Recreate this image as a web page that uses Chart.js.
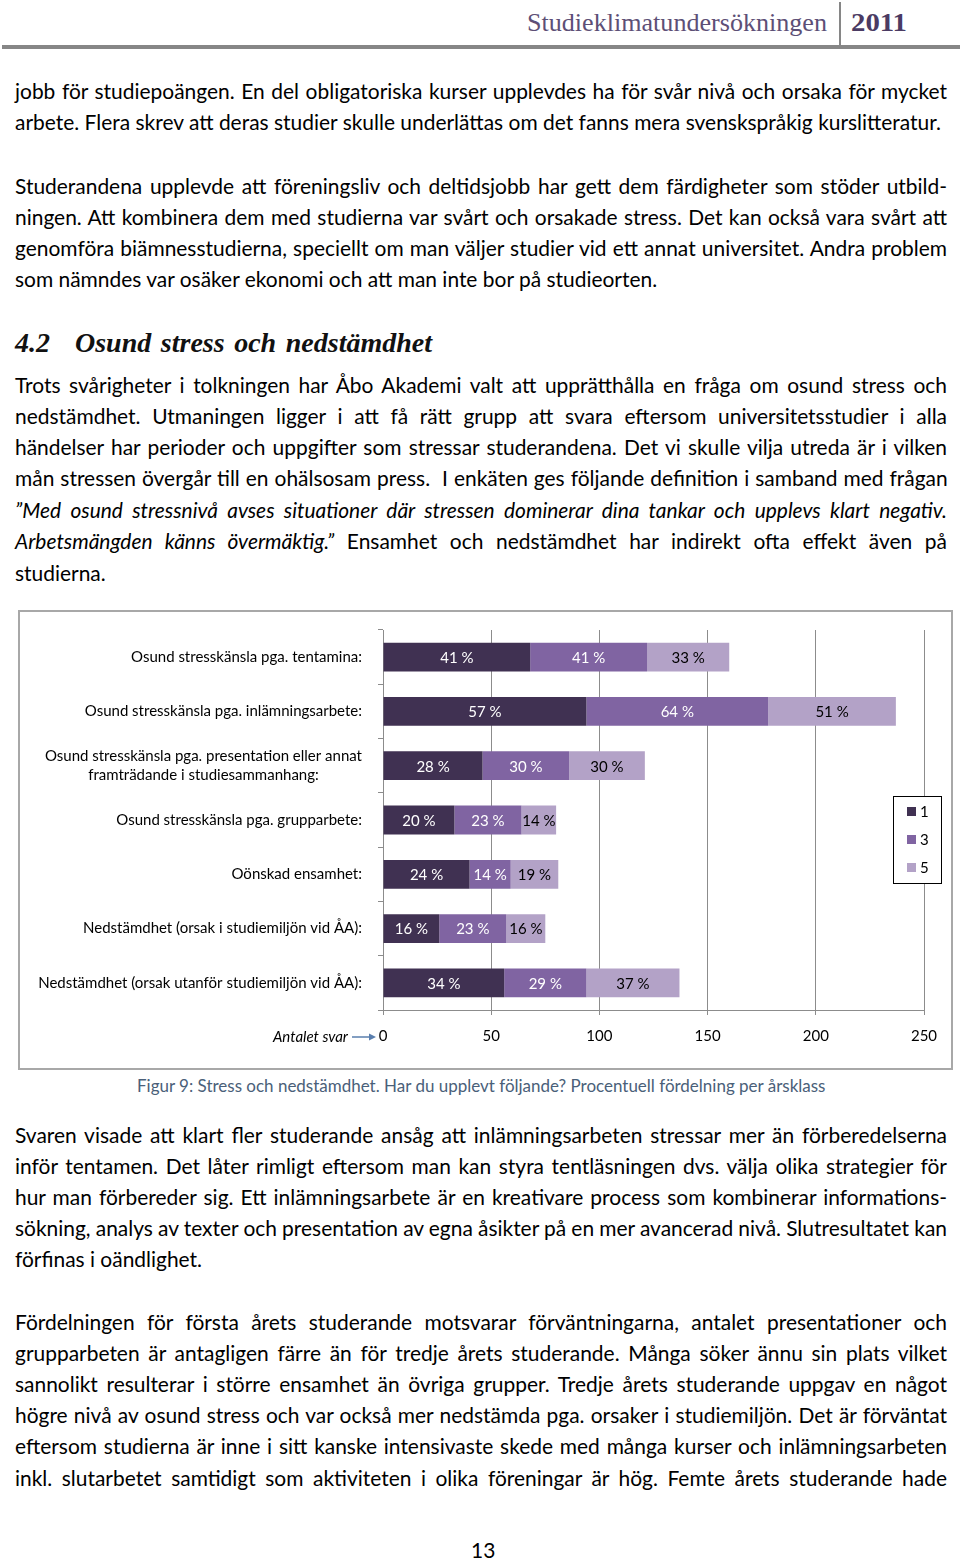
<!DOCTYPE html>
<html>
<head>
<meta charset="utf-8">
<script src="https://cdn.jsdelivr.net/npm/chart.js@4"></script>
<style>
body{margin:0;width:960px;height:1559px;background:#fff;position:relative;overflow:hidden;font-family:Lato,"Open Sans",sans-serif;color:#000}
.ln{position:absolute;left:15px;white-space:nowrap;font-size:19px;line-height:31px;height:31px;transform-origin:0 50%}
.it{font-style:italic}
.hdr{position:absolute;white-space:nowrap;font-family:"Liberation Serif",serif;line-height:30px;transform-origin:0 50%}
#rule{position:absolute;left:2px;top:45px;width:958px;height:4px;background:#868686}
#sep{position:absolute;left:839px;top:2px;width:2px;height:44px;background:#868686}
#box{position:absolute;left:18px;top:610px;width:931px;height:456px;border:2px solid #a8a8a8}
#chart{position:absolute;left:18px;top:610px}
.h2{position:absolute;white-space:nowrap;font-family:"Liberation Serif",serif;font-weight:bold;font-style:italic;font-size:28px;line-height:36px;color:#111;transform-origin:0 50%}
</style>
</head>
<body>

<!-- sidhuvud -->
<div class="hdr" data-r="827" style="left:527px;top:8px;font-size:25px;color:#5d4f76">Studieklimatundersökningen</div>
<div class="hdr" data-r="907" style="left:851px;top:8px;font-size:25px;font-weight:bold;color:#4b3b63">2011</div>
<div id="sep"></div>
<div id="rule"></div>

<!-- text ovanför figuren -->
<div class="ln body" data-r="947" style="top:75px">jobb för studiepoängen. En del obligatoriska kurser upplevdes ha för svår nivå och orsaka för mycket</div>
<div class="ln body" id="calib" data-r="941" style="top:106px">arbete. Flera skrev att deras studier skulle underlättas om det fanns mera svenskspråkig kurslitteratur.</div>

<div class="ln body" data-r="947" style="top:170px">Studerandena upplevde att föreningsliv och deltidsjobb har gett dem färdigheter som stöder utbild-</div>
<div class="ln body" data-r="947" style="top:201px">ningen. Att kombinera dem med studierna var svårt och orsakade stress. Det kan också vara svårt att</div>
<div class="ln body" data-r="947" style="top:232px">genomföra biämnesstudierna, speciellt om man väljer studier vid ett annat universitet. Andra problem</div>
<div class="ln body" style="top:263px">som nämndes var osäker ekonomi och att man inte bor på studieorten.</div>

<div class="h2" style="left:15px;top:325px">4.2</div>
<div class="h2" data-r="432" style="left:75px;top:325px">Osund stress och nedstämdhet</div>

<div class="ln body" data-r="947" style="top:369px">Trots svårigheter i tolkningen har Åbo Akademi valt att upprätthålla en fråga om osund stress och</div>
<div class="ln body" data-r="947" style="top:400px">nedstämdhet. Utmaningen ligger i att få rätt grupp att svara eftersom universitetsstudier i alla</div>
<div class="ln body" data-r="947" style="top:431px">händelser har perioder och uppgifter som stressar studerandena. Det vi skulle vilja utreda är i vilken</div>
<div class="ln body" data-r="947" style="top:462px">mån stressen övergår till en ohälsosam press.&nbsp; I enkäten ges följande definition i samband med frågan</div>
<div class="ln body it" data-r="947" style="top:494px">”Med osund stressnivå avses situationer där stressen dominerar dina tankar och upplevs klart negativ.</div>
<div class="ln body" data-r="947" style="top:525px"><span class="it">Arbetsmängden känns övermäktig.”</span> Ensamhet och nedstämdhet har indirekt ofta effekt även på</div>
<div class="ln body" style="top:557px">studierna.</div>

<!-- figur -->
<div id="box"></div>
<canvas id="chart" width="933" height="458"></canvas>

<div class="ln fit" data-r="826" style="left:137px;top:1070px;font-size:16px;color:#4a6079">Figur 9: Stress och nedstämdhet. Har du upplevt följande? Procentuell fördelning per årsklass</div>

<!-- text under figuren -->
<div class="ln body" data-r="947" style="top:1119px">Svaren visade att klart fler studerande ansåg att inlämningsarbeten stressar mer än förberedelserna</div>
<div class="ln body" data-r="947" style="top:1150px">inför tentamen. Det låter rimligt eftersom man kan styra tentläsningen dvs. välja olika strategier för</div>
<div class="ln body" data-r="947" style="top:1181px">hur man förbereder sig. Ett inlämningsarbete är en kreativare process som kombinerar informations-</div>
<div class="ln body" data-r="947" style="top:1212px">sökning, analys av texter och presentation av egna åsikter på en mer avancerad nivå. Slutresultatet kan</div>
<div class="ln body" style="top:1243px">förfinas i oändlighet.</div>

<div class="ln body" data-r="947" style="top:1306px">Fördelningen för första årets studerande motsvarar förväntningarna, antalet presentationer och</div>
<div class="ln body" data-r="947" style="top:1337px">grupparbeten är antagligen färre än för tredje årets studerande. Många söker ännu sin plats vilket</div>
<div class="ln body" data-r="947" style="top:1368px">sannolikt resulterar i större ensamhet än övriga grupper. Tredje årets studerande uppgav en något</div>
<div class="ln body" data-r="947" style="top:1399px">högre nivå av osund stress och var också mer nedstämda pga. orsaker i studiemiljön. Det är förväntat</div>
<div class="ln body" data-r="947" style="top:1430px">eftersom studierna är inne i sitt kanske intensivaste skede med många kurser och inlämningsarbeten</div>
<div class="ln body" data-r="947" style="top:1462px">inkl. slutarbetet samtidigt som aktiviteten i olika föreningar är hög. Femte årets studerande hade</div>

<div class="ln body" style="left:471px;top:1534px">13</div>

<script>
// data (antal svar per årsklass)
const categories = [
    'Osund stresskänsla pga. tentamina:',
    'Osund stresskänsla pga. inlämningsarbete:',
    ['Osund stresskänsla pga. presentation eller annat', 'framträdande i studiesammanhang:'],
    'Osund stresskänsla pga. grupparbete:',
    'Oönskad ensamhet:',
    'Nedstämdhet (orsak i studiemiljön vid ÅA):',
    'Nedstämdhet (orsak utanför studiemiljön vid ÅA):'
];
const seriesNames = ['1', '3', '5'];
const year1 = [68, 94, 46, 33, 40, 26, 56];
const year3 = [54, 84, 40, 31, 19, 31, 38];
const year5 = [38, 59, 35, 16, 22, 18, 43];
// procent som står i staplarna
const pct1 = [41, 57, 28, 20, 24, 16, 34];
const pct3 = [41, 64, 30, 23, 14, 23, 29];
const pct5 = [33, 51, 30, 14, 19, 16, 37];
const xTicks = [0, 50, 100, 150, 200, 250];

const colors = ['#403152', '#8064a2', '#b3a2c7'];
const labelColors = ['#fff', '#fff', '#000'];
const FONT = 'Lato, "Open Sans", sans-serif';

/* brödtext: teckenstorlek ur en rad som inte är utjämnad */
var calib = document.getElementById('calib');
var fs = 19 * (941 - 15) / calib.getBoundingClientRect().width;
document.querySelectorAll('.ln.body').forEach(function(el){ el.style.fontSize = fs + 'px'; });

/* figurtext: storlek så att raden blir lika lång */
document.querySelectorAll('.ln.fit').forEach(function(el){
    var target = +el.dataset.r - el.offsetLeft;
    el.style.fontSize = (16 * target / el.getBoundingClientRect().width) + 'px';
});

/* rader: justera ordavstånd så att raden slutar där originalet slutar */
document.querySelectorAll('[data-r]').forEach(function(el){
    if (el.classList.contains('fit')) return;
    var target = +el.dataset.r - el.offsetLeft;
    var w = el.getBoundingClientRect().width;
    var spaces = (el.textContent.match(/ /g) || []).length;
    if (w > target + 40 || spaces == 0) {
        el.style.transform = 'scaleX(' + (target / w) + ')';
    } else {
        el.style.wordSpacing = ((target - w) / spaces) + 'px';
    }
});

// etiketter i staplarna
const barLabels = {
    id: 'barLabels',
    afterDatasetsDraw(chart) {
        const ctx = chart.ctx;
        ctx.save();
        ctx.font = '15px ' + FONT;
        ctx.textAlign = 'center';
        ctx.textBaseline = 'middle';
        chart.data.datasets.forEach(function(ds, di){
            chart.getDatasetMeta(di).data.forEach(function(bar, i){
                ctx.fillStyle = labelColors[di];
                ctx.fillText(ds.pct[i] + ' %', (bar.x + bar.base) / 2, bar.y + 1);
            });
        });
        ctx.restore();
    }
};

// kategorinamn (flerradiga centreras inom sitt block), förklaring och "Antalet svar"
const extras = {
    id: 'extras',
    afterDraw(chart) {
        const ctx = chart.ctx;
        const ys = chart.scales.y;
        const xs = chart.scales.x;
        const area = chart.chartArea;
        ctx.save();
        ctx.font = '15px ' + FONT;
        ctx.fillStyle = '#000';
        ctx.textBaseline = 'middle';
        const right = area.left - 21;
        categories.forEach(function(lab, i){
            const lines = Array.isArray(lab) ? lab : [lab];
            const y = ys.getPixelForValue(i);
            let maxW = 0;
            lines.forEach(function(l){ maxW = Math.max(maxW, ctx.measureText(l).width); });
            ctx.textAlign = 'center';
            lines.forEach(function(l, k){
                ctx.fillText(l, right - maxW / 2, y + (k - (lines.length - 1) / 2) * 19);
            });
        });

        // förklaring
        const bx = area.right - 31, by = area.top + 166, bw = 48, bh = 87;
        ctx.fillStyle = '#fff';
        ctx.fillRect(bx, by, bw, bh);
        ctx.strokeStyle = '#000';
        ctx.lineWidth = 1;
        ctx.strokeRect(bx + 0.5, by + 0.5, bw, bh);
        ctx.textAlign = 'left';
        seriesNames.forEach(function(n, k){
            const y = by + 15 + k * 28;
            ctx.fillStyle = colors[k];
            ctx.fillRect(bx + 14, y - 4, 9, 9);
            ctx.fillStyle = '#000';
            ctx.fillText(n, bx + 27, y + 1);
        });

        // Antalet svar -->
        const ty = xs.top + 27;
        ctx.font = 'italic 15px ' + FONT;
        ctx.textAlign = 'right';
        ctx.fillStyle = '#000';
        ctx.fillText('Antalet svar', area.left - 35, ty);
        ctx.strokeStyle = '#5a7fae';
        ctx.fillStyle = '#5a7fae';
        ctx.lineWidth = 1.5;
        ctx.beginPath();
        ctx.moveTo(area.left - 31, ty);
        ctx.lineTo(area.left - 12, ty);
        ctx.stroke();
        ctx.beginPath();
        ctx.moveTo(area.left - 7, ty);
        ctx.lineTo(area.left - 14, ty - 3.5);
        ctx.lineTo(area.left - 14, ty + 3.5);
        ctx.closePath();
        ctx.fill();
        ctx.restore();
    }
};

var ctx = document.getElementById('chart').getContext('2d');

var stressChart = new Chart(ctx, {
    type: 'bar',
    data: {
        labels: categories,
        datasets: [
            { label: seriesNames[0], data: year1, pct: pct1, backgroundColor: colors[0] },
            { label: seriesNames[1], data: year3, pct: pct3, backgroundColor: colors[1] },
            { label: seriesNames[2], data: year5, pct: pct5, backgroundColor: colors[2] }
        ]
    },
    options: {
        indexAxis: 'y',
        responsive: false,
        animation: false,
        categoryPercentage: 1,
        barPercentage: 0.53,
        layout: { padding: { top: 20, right: 27, left: 0, bottom: 0 } },
        plugins: {
            legend: { display: false },
            tooltip: { enabled: false }
        },
        scales: {
            x: {
                stacked: true,
                min: xTicks[0],
                max: xTicks[xTicks.length - 1],
                afterBuildTicks: function(s){ s.ticks = xTicks.map(function(v){ return { value: v }; }); },
                ticks: { color: '#000', font: { family: FONT, size: 15 }, padding: 12, maxRotation: 0 },
                grid: { color: '#8c8c8c', lineWidth: 1, tickLength: 5 },
                border: { color: '#8c8c8c' },
                afterFit: function(s){ s.height = 58; }
            },
            y: {
                stacked: true,
                ticks: { display: false },
                grid: { offset: true, drawOnChartArea: false, tickLength: 5, color: '#8c8c8c' },
                border: { color: '#8c8c8c' },
                afterFit: function(s){ s.width = 365; }
            }
        }
    },
    plugins: [barLabels, extras]
});
</script>
</body>
</html>
